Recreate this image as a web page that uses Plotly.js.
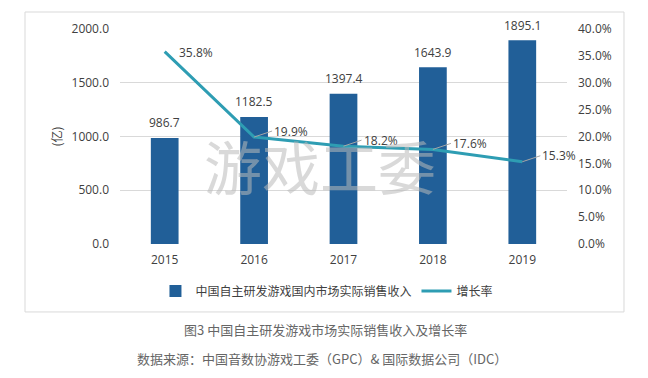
<!DOCTYPE html>
<html><head><meta charset="utf-8">
<script src="https://cdn.plot.ly/plotly-3.0.1.min.js"></script>
<style>html,body{margin:0;padding:0;background:#fff}</style>
</head><body><div id="chart" style="width:648px;height:378px"></div>
<script>
const years = ['2015', '2016', '2017', '2018', '2019'];
const revenue = [986.7, 1182.5, 1397.4, 1643.9, 1895.1];
const growth = [35.8, 19.9, 18.2, 17.6, 15.3];
const revenueName = '中国自主研发游戏国内市场实际销售收入';
const growthName = '增长率';
const yTitle = '(亿)';
const watermark = '游戏工委';
const caption = '图3 中国自主研发游戏市场实际销售收入及增长率';
const source = '数据来源：中国音数协游戏工委（GPC）& 国际数据公司（IDC）';

const FONT = '"Open Sans", "Noto Sans CJK SC", sans-serif';
const CJK = '"Noto Sans CJK SC", sans-serif';
const TXT = '#404040';

const barTrace = {
  type: 'bar', x: years, y: revenue, name: revenueName,
  marker: {color: '#215f98'}, width: 0.31, yaxis: 'y', hoverinfo: 'skip'
};
const lineTrace = {
  type: 'scatter', mode: 'lines', x: years, y: growth, name: growthName,
  line: {color: '#2e9db3', width: 3}, yaxis: 'y2', hoverinfo: 'skip'
};

const annotations = [];
revenue.forEach((v, i) => {
  annotations.push({x: i, y: v, xref: 'x', yref: 'y', text: v.toFixed(1),
    showarrow: false, yanchor: 'middle', yshift: 15,
    font: {family: FONT, size: 12, color: TXT}});
});
growth.forEach((v, i) => {
  if (i === 0) {
    annotations.push({x: i, y: v, xref: 'x', yref: 'y2', text: v.toFixed(1) + '%',
      showarrow: false, xanchor: 'left', yanchor: 'middle', xshift: 12, yshift: -1,
      font: {family: FONT, size: 12, color: TXT}});
  } else {
    annotations.push({x: i, y: v, xref: 'x', yref: 'y2', text: v.toFixed(1) + '%',
      showarrow: true, arrowhead: 0, arrowwidth: 1, arrowcolor: '#a6a6a6',
      ax: 18, ay: -6, xanchor: 'left', yanchor: 'middle', standoff: 0,
      font: {family: FONT, size: 12, color: TXT}});
  }
});
annotations.push({xref: 'paper', yref: 'paper', x: 0.447, y: 0.367, text: watermark,
  showarrow: false, font: {family: CJK, size: 58, color: 'rgba(185,185,185,0.55)'}});
annotations.push({xref: 'paper', yref: 'paper', x: 0.459, y: -0.398, text: caption,
  showarrow: false, yanchor: 'middle', font: {family: CJK, size: 13, color: '#666666'}});
annotations.push({xref: 'paper', yref: 'paper', x: 0.451, y: -0.533, text: source,
  showarrow: false, yanchor: 'middle', font: {family: CJK, size: 13, color: '#666666'}});

const layout = {
  width: 648, height: 378,
  margin: {l: 120, r: 81, t: 29, b: 134, pad: 0},
  paper_bgcolor: '#ffffff', plot_bgcolor: '#ffffff',
  font: {family: FONT, size: 12, color: TXT},
  showlegend: true,
  legend: {orientation: 'h', x: 0.463, xanchor: 'center', y: -0.219, yanchor: 'middle',
    font: {family: CJK, size: 12, color: TXT}, bgcolor: 'rgba(0,0,0,0)', itemwidth: 30,
    tracegroupgap: 0},
  xaxis: {type: 'category', range: [-0.5, 4.5], showgrid: false, zeroline: false, showline: false, ticks: '',
    ticklabelstandoff: 7, tickfont: {family: FONT, size: 12, color: TXT}},
  yaxis: {range: [0, 2000], dtick: 500, tickformat: '.1f', showgrid: true, gridcolor: '#d9d9d9',
    gridwidth: 1, zeroline: false, showline: false, ticks: '', ticklabelstandoff: 10,
    tickfont: {family: FONT, size: 12, color: TXT},
    title: {text: yTitle, standoff: 6, font: {family: CJK, size: 12, color: TXT}}},
  yaxis2: {range: [0, 40], dtick: 5, tickformat: '.1f', ticksuffix: '%', overlaying: 'y', side: 'right',
    showgrid: false, zeroline: false, showline: false, ticks: '', ticklabelstandoff: 10,
    tickfont: {family: FONT, size: 12, color: TXT}},
  annotations: annotations,
  shapes: [{type: 'rect', xref: 'paper', yref: 'paper', x0: -0.2125, x1: 1.1275, y0: -0.316, y1: 1.079,
    line: {color: '#d9d9d9', width: 1}, fillcolor: 'rgba(0,0,0,0)', layer: 'below'}]
};

Plotly.newPlot('chart', [barTrace, lineTrace], layout, {displayModeBar: false, staticPlot: true});
</script></body></html>
